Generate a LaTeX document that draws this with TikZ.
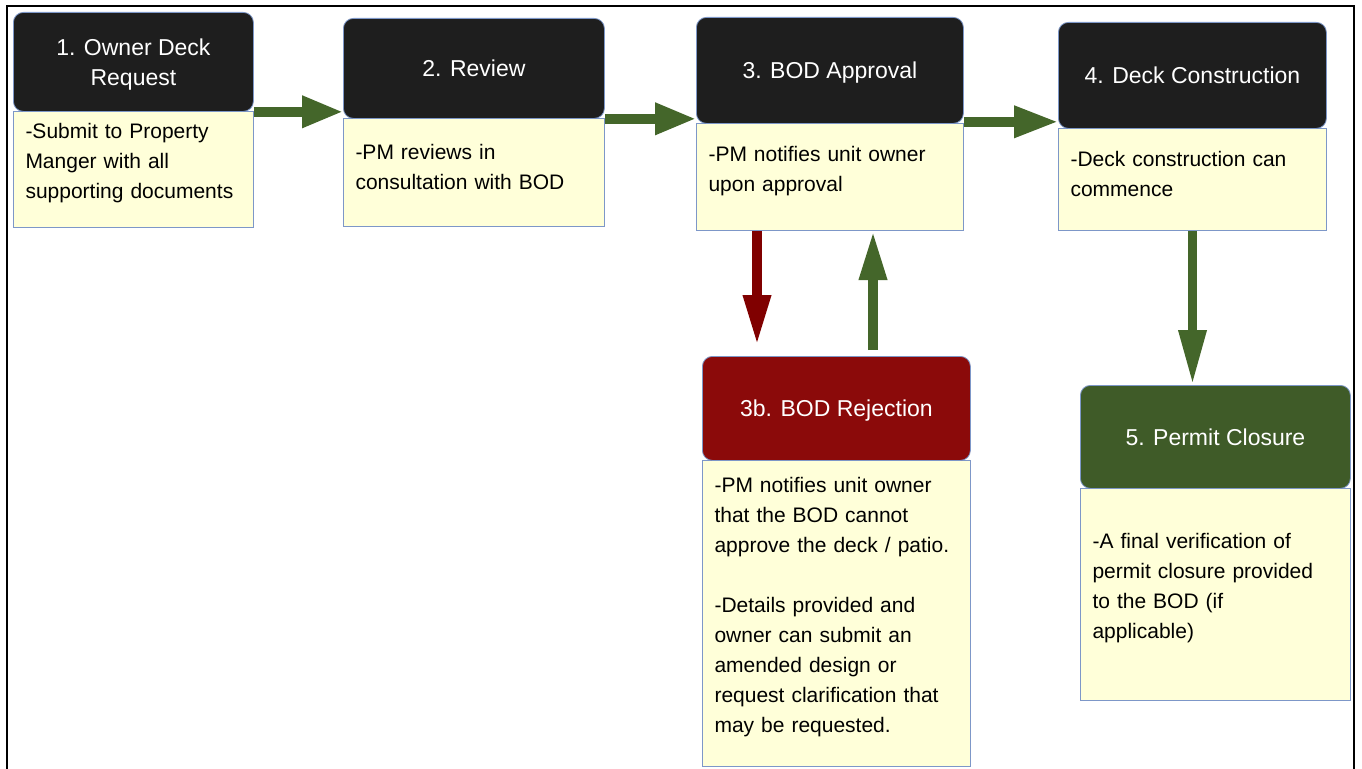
\documentclass[tikz,border=0pt]{standalone}
\usepackage{fontspec}
\setmainfont{Liberation Sans}
\usetikzlibrary{arrows.meta}

\definecolor{hdrdark}{HTML}{1E1E1E}
\definecolor{hdrred}{HTML}{8B0A0A}
\definecolor{hdrgreen}{HTML}{3F5B28}
\definecolor{flowgreen}{HTML}{44662A}
\definecolor{flowred}{HTML}{800000}
\definecolor{bodyfill}{HTML}{FFFFD9}
\definecolor{edgeblue}{HTML}{7D97C8}

\tikzset{
  hdr/.style={draw=edgeblue, line width=0.8pt, rounded corners=10pt, text=white,
    align=center, inner sep=0pt, anchor=north west, text depth=0pt,
    font=\fontsize{23}{30}\selectfont},
  bodybox/.style={draw=edgeblue, line width=1pt, fill=bodyfill, align=left,
    inner xsep=12pt, inner ysep=0pt, anchor=north west,
    execute at end node={\par\vskip 12pt\hrule height 0pt},
    font=\fontsize{21}{30}\selectfont},
  flow/.style={line width=9.5pt, draw=flowgreen},
}

\begin{document}
\begin{tikzpicture}[x=1pt, y=-1pt]
    % --- 1. page and frame ---
    \useasboundingbox (0,0) rectangle (1362,768);
    \draw[line width=1.5pt] (7,6) rectangle (1354,800);

    % --- 2. text parts of the steps ---
    \node[bodybox, text width=216pt, minimum height=116pt] (b1) at (13,111)
        {-Submit to Property\\Manger with all\\supporting documents};
    \node[bodybox, text width=237pt, minimum height=108pt] (b2) at (343,118)
        {-PM reviews in\\consultation with BOD};
    \node[bodybox, text width=243pt, minimum height=107pt] (b3) at (696,123)
        {-PM notifies unit owner\\upon approval};
    \node[bodybox, text width=244pt, minimum height=102pt] (b4) at (1058,128)
        {-Deck construction can\\commence};
    \node[bodybox, text width=244pt, minimum height=306pt] (b3b) at (702,460)
        {-PM notifies unit owner\\that the BOD cannot\\approve the deck / patio.\\[30pt]-Details provided and\\owner can submit an\\amended design or\\request clarification that\\may be requested.};
    \node[bodybox, text width=246pt, minimum height=212pt] (b5) at (1080,488)
        {-A final verification of\\permit closure provided\\to the BOD (if\\applicable)};

    % --- 3. step headers ---
    \node[hdr, fill=hdrdark, minimum width=240pt, minimum height=99pt] (h1) at (13,12)
        {1. Owner Deck\\Request};
    \node[hdr, fill=hdrdark, minimum width=261pt, minimum height=100pt] (h2) at (343,18)
        {2. Review};
    \node[hdr, fill=hdrdark, minimum width=267pt, minimum height=106pt] (h3) at (696,17)
        {3. BOD Approval};
    \node[hdr, fill=hdrdark, minimum width=268pt, minimum height=106pt] (h4) at (1058,22)
        {4. Deck Construction};
    \node[hdr, fill=hdrred, minimum width=268pt, minimum height=104pt] (h3b) at (702,356)
        {3b. BOD Rejection};
    \node[hdr, fill=hdrgreen, minimum width=270pt, minimum height=103pt] (h5) at (1080,385)
        {5. Permit Closure};

    % --- 4. arrows ---
    \coordinate (rejtip) at (757,345);
    \coordinate (retbase) at (873,350);
    \draw[flow, -{Triangle[length=41pt, width=30pt]}] (h1.south east) -- (h1.south east -| h2.west);
    \draw[flow, -{Triangle[length=41pt, width=30pt]}] (h2.south east) -- (h2.south east -| h3.west);
    \draw[flow, -{Triangle[length=44pt, width=30pt]}] ([yshift=2pt]h3.south east) -- ([yshift=2pt]h3.south east -| h4.west);
    \draw[flow, -{Triangle[length=55pt, width=26pt]}] (b4.south) -- (b4.south |- h5.north);
    \draw[flow, draw=flowred, -{Triangle[length=50pt, width=26pt]}] (b3.south -| rejtip) -- (rejtip);
    \draw[flow, -{Triangle[length=49pt, width=26pt]}] (retbase) -- (retbase |- b3.south);
\end{tikzpicture}
\end{document}
